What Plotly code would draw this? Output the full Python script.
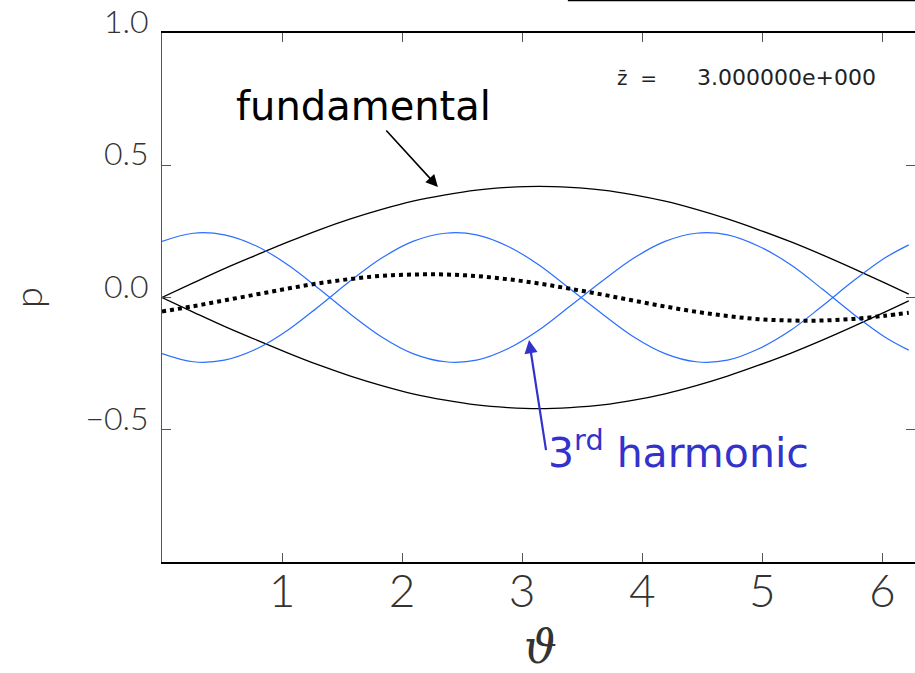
import plotly.graph_objects as go

theta = [0.0, 0.26, 0.52, 0.79, 1.05, 1.31, 1.57, 1.83, 2.09, 2.36, 2.62, 2.88, 3.14,
         3.40, 3.67, 3.93, 4.19, 4.45, 4.71, 4.97, 5.24, 5.50, 5.76, 6.02, 6.22]

fund_upper = [0.0, 0.055, 0.109, 0.161, 0.21, 0.256, 0.297, 0.333, 0.364, 0.388, 0.406, 0.416, 0.42,
              0.416, 0.406, 0.388, 0.364, 0.333, 0.297, 0.256, 0.21, 0.161, 0.109, 0.055, 0.013]
fund_lower = [-v for v in fund_upper]

harm_a = [0.212, 0.243, 0.237, 0.194, 0.123, 0.032, -0.063, -0.149, -0.212, -0.243, -0.237, -0.194, -0.123,
          -0.032, 0.063, 0.149, 0.212, 0.243, 0.237, 0.194, 0.123, 0.032, -0.063, -0.149, -0.199]
harm_b = [-v for v in harm_a]

total = [-0.053, -0.033, -0.011, 0.012, 0.034, 0.054, 0.070, 0.082, 0.087, 0.087, 0.081, 0.069, 0.053,
         0.033, 0.011, -0.012, -0.034, -0.054, -0.070, -0.082, -0.087, -0.087, -0.081, -0.069, -0.058]

x_ticks = [1, 2, 3, 4, 5, 6]
x_ticktext = ["1", "2", "3", "4", "5", "6"]
y_ticks = [-0.5, 0.0, 0.5, 1.0]
y_ticktext = ["\u22120.5", "0.0", "0.5", "1.0"]

BLUE = "#2a6fff"
LABEL_BLUE = "#3333cc"
THIN = dict(family="Lato", color="#333333", weight=300)

fig = go.Figure()
for ys in (fund_upper, fund_lower):
    fig.add_trace(go.Scatter(x=theta, y=ys, mode="lines", line=dict(color="black", width=1.3, shape="spline"),
                             showlegend=False, hoverinfo="skip"))
for ys in (harm_a, harm_b):
    fig.add_trace(go.Scatter(x=theta, y=ys, mode="lines", line=dict(color=BLUE, width=1.2, shape="spline"),
                             showlegend=False, hoverinfo="skip"))
fig.add_trace(go.Scatter(x=theta, y=total, mode="lines",
                         line=dict(color="black", width=4, dash="dot", shape="spline"),
                         showlegend=False, hoverinfo="skip"))

fig.update_layout(
    width=915, height=673,
    margin=dict(l=162, r=0, t=33, b=111),
    paper_bgcolor="white", plot_bgcolor="white",
    xaxis=dict(range=[0, 6.272], tickmode="array", tickvals=x_ticks, ticktext=x_ticktext,
               ticks="inside", ticklen=9, tickcolor="#555555", tickwidth=1,
               showline=True, linecolor="black", linewidth=1.5, mirror="ticks",
               showgrid=False, zeroline=False, ticklabelstandoff=-12,
               tickfont=dict(size=46, **THIN)),
    yaxis=dict(range=[-1, 1], tickmode="array", tickvals=y_ticks, ticktext=y_ticktext,
               ticks="inside", ticklen=9, tickcolor="#555555", tickwidth=1,
               showline=True, linecolor="#555555", linewidth=1, mirror="ticks",
               showgrid=False, zeroline=False, tickfont=dict(size=32, **THIN),
               ticklabelstandoff=6, ticklabelshift=-11),
    annotations=[
        dict(x=2.298, y=0.418, xref="x", yref="y", text="fundamental", showarrow=True,
             ax=-74, ay=-81, xanchor="center", yanchor="middle",
             arrowhead=2, arrowsize=1.5, arrowwidth=1.6, arrowcolor="black", standoff=0,
             font=dict(family="DejaVu Sans", size=40, color="black")),
        dict(x=3.057, y=-0.161, xref="x", yref="y", text="3<sup>rd</sup> harmonic", showarrow=True,
             ax=17, ay=110, xanchor="left", yanchor="middle",
             arrowhead=2, arrowsize=1.2, arrowwidth=2.2, arrowcolor=LABEL_BLUE, standoff=0,
             font=dict(family="DejaVu Sans", size=41, color=LABEL_BLUE)),
        dict(x=3.773, y=0.830, xref="x", yref="y", text="z\u0304  =", showarrow=False,
             font=dict(family="DejaVu Sans", size=20, color="#222222"), xanchor="left", yanchor="middle"),
        dict(x=5.964, y=0.830, xref="x", yref="y", text="3.000000e+000", showarrow=False,
             font=dict(family="DejaVu Sans", size=22, color="#222222"), xanchor="right", yanchor="middle"),
        dict(x=0.502, y=-0.1607, xref="paper", yref="paper", text="\u03d1", showarrow=False,
             font=dict(family="DejaVu Serif", size=46, color="#333333", style="italic"),
             xanchor="center", yanchor="middle"),
        dict(x=-0.1793, y=0.501, xref="paper", yref="paper", text="p", showarrow=False, textangle=-90,
             font=dict(size=38, **THIN), xanchor="center", yanchor="middle"),
    ],
    shapes=[dict(type="line", xref="paper", yref="paper", x0=0.539, x1=1.0, y0=1.0614, y1=1.0614,
                 line=dict(color="black", width=1.5))],
)

fig.write_html("out.html", post_script="document.body.style.margin='0px';",
               config={"displayModeBar": False})
